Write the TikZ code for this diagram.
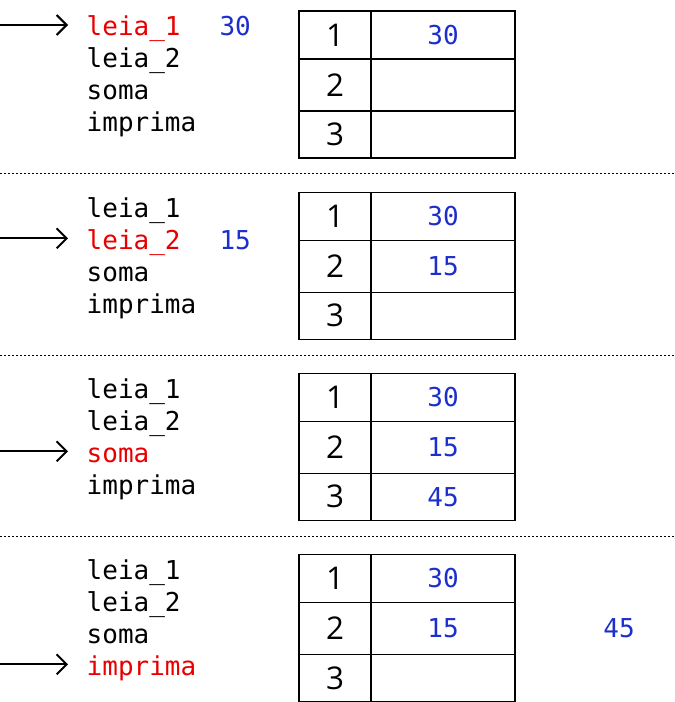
\documentclass[tikz,border=0pt]{standalone}
\usepackage{fontspec}
\setmonofont{DejaVu Sans Mono}
\newfontfamily\cellfont{Open Sans}
\usetikzlibrary{arrows.meta}
\definecolor{curred}{RGB}{232,0,0}
\definecolor{valblue}{RGB}{28,46,204}

\begin{document}
\begin{tikzpicture}[x=0.75pt,y=-0.75pt,every node/.style={inner sep=0pt,outer sep=0pt},
  code/.style={anchor=base west,font=\ttfamily\fontsize{19.5}{20}\selectfont},
  val/.style={code,text=valblue},
  idxcell/.style={draw,line width=0.8pt,anchor=north west,minimum width=54pt,font=\cellfont\fontsize{23.5}{24}\selectfont},
  valcell/.style={draw,line width=0.8pt,anchor=north west,minimum width=108pt,text=valblue,font=\ttfamily\fontsize{19.5}{20}\selectfont},
  ptr/.style={-{Straight Barb[length=7.5pt,width=15pt]},line width=1.5pt},
  sep/.style={line width=0.75pt,dash pattern=on 1.5pt off 1.5pt}]
  \useasboundingbox (0,0) rectangle (674,702);
  \foreach \p/\T/\va/\vb/\vc in {1/11/30//,2/192.3/30/15/,3/373.3/30/15/45,4/554.3/30/15/}{
    \foreach \k/\w in {1/leia\_1,2/leia\_2,3/soma,4/imprima}{
      \ifnum\k=\p\def\col{curred}\else\def\col{black}\fi
      \node[code,text=\col] (l\p-\k) at ({86.7},{\T-7+32*\k}) {\w};
    }
    \coordinate (s\p) at ({0},{\T-18+32*\p});
    \draw[ptr] (s\p) -- ([xshift=-14pt,yshift=8.25pt]l\p-\p.base west);
    \node[idxcell,minimum height=36pt] (n\p-1) at ({299},{\T}) {1};
    \node[idxcell,minimum height=39pt] (n\p-2) at (n\p-1.south west) {2};
    \node[idxcell,minimum height=35.25pt] (n\p-3) at (n\p-2.south west) {3};
    \node[valcell,minimum height=36pt] (v\p-1) at (n\p-1.north east) {\va};
    \node[valcell,minimum height=39pt] (v\p-2) at (n\p-2.north east) {\vb};
    \node[valcell,minimum height=35.25pt] (v\p-3) at (n\p-3.north east) {\vc};
  }
  \node[val] (in1) at (219.5,36) {30};
  \node[val] (in2) at (219.5,249.3) {15};
  \node[val,anchor=center] (out4) at (619,628.3) {45};
  \foreach \y in {173.3,355.3,536.7}
    \draw[sep] (0,\y) -- (674,\y);
\end{tikzpicture}
\end{document}
